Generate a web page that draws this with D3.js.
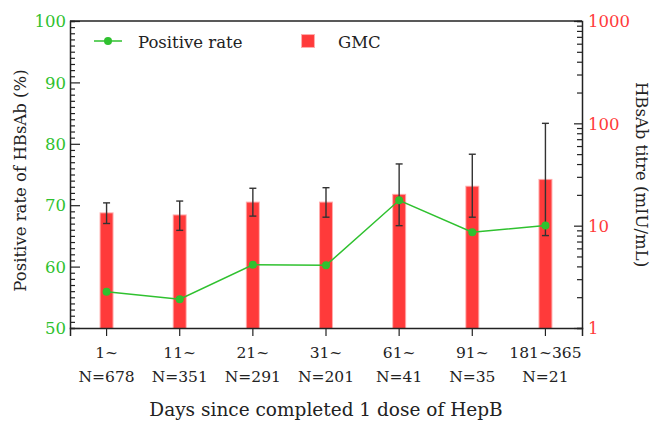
<!DOCTYPE html>
<html><head><meta charset="utf-8">
<script src="https://cdn.jsdelivr.net/npm/d3@7"></script>
<style>body{margin:0;background:#fff}svg{display:block}text{font-family:"DejaVu Serif",serif}</style>
</head><body><svg id="c" width="654" height="426"></svg>
<script>
const categories = ["1~", "11~", "21~", "31~", "61~", "91~", "181~365"];
const sampleN = ["N=678", "N=351", "N=291", "N=201", "N=41", "N=35", "N=21"];
const positiveRate = [55.9, 54.7, 60.3, 60.2, 70.8, 65.6, 66.7];
const gmc = [13.2, 12.6, 16.8, 16.8, 20.0, 24.0, 28.0];
const gmcLow = [10.5, 9.0, 12.4, 12.1, 10.0, 12.1, 8.0];
const gmcHigh = [16.7, 17.4, 23.2, 23.5, 40.1, 49.9, 100];
const leftTicks = [50, 60, 70, 80, 90, 100];
const rightTicks = [1, 10, 100, 1000];

const svg = d3.select("#c");
const m = {l: 70, r: 582, t: 21, b: 328};
const green = "#2fc12f", red = "#ff3a3a", dark = "#222";

const x = d3.scaleBand().domain(categories).range([m.l, m.r]).padding(0);
const yL = d3.scaleLinear().domain([50, 100]).range([m.b, m.t]);
const yR = d3.scaleLog().domain([1, 1000]).range([m.b, m.t]);
const cx = c => x(c) + x.bandwidth() / 2;
const bw = 12;

// bars
svg.append("g").selectAll("rect").data(categories).join("rect")
  .attr("x", (d) => cx(d) - bw / 2)
  .attr("width", bw)
  .attr("y", (d, i) => yR(gmc[i]))
  .attr("height", (d, i) => m.b - yR(gmc[i]))
  .attr("fill", red).attr("stroke", "rgba(255,70,70,0.45)").attr("stroke-width", 2);

// error bars
const eb = svg.append("g").attr("stroke", "#333").attr("stroke-width", 1.4);
categories.forEach((c, i) => {
  const X = cx(c);
  eb.append("line").attr("x1", X).attr("x2", X).attr("y1", yR(gmcLow[i])).attr("y2", yR(gmcHigh[i]));
  [gmcLow[i], gmcHigh[i]].forEach(v => eb.append("line").attr("x1", X - 3.5).attr("x2", X + 3.5).attr("y1", yR(v)).attr("y2", yR(v)));
});

// line
svg.append("path").datum(positiveRate)
  .attr("d", d3.line().x((d, i) => cx(categories[i])).y(d => yL(d)))
  .attr("fill", "none").attr("stroke", green).attr("stroke-width", 1.5);
svg.append("g").selectAll("circle").data(positiveRate).join("circle")
  .attr("cx", (d, i) => cx(categories[i])).attr("cy", d => yL(d)).attr("r", 4).attr("fill", green);

// frame top
svg.append("line").attr("x1", m.l).attr("x2", m.r).attr("y1", m.t).attr("y2", m.t).attr("stroke", dark).attr("stroke-width", 1.5);

// left axis
const gL = svg.append("g").attr("transform", `translate(${m.l},0)`);
gL.call(d3.axisLeft(yL).tickValues(d3.range(50, 101, 1)).tickSize(-5).tickFormat(""));
gL.call(g => g.selectAll(".tick line").filter(d => d % 10 === 0).attr("x2", 10));
gL.selectAll(".domain").attr("stroke", dark).attr("stroke-width", 1.5);
gL.selectAll("line").attr("stroke", dark).attr("stroke-width", 1.2);
gL.selectAll(".tick").filter(d => leftTicks.includes(d)).append("text")
  .attr("x", -4).attr("dy", "0.35em").attr("text-anchor", "end")
  .attr("fill", green).style("font-size", "16.5px").text(d => d);

// right axis
const minorR = [];
for (let e = 1; e < 1000; e *= 10) for (let k = 1; k < 10; k++) minorR.push(e * k);
minorR.push(1000);
const gR = svg.append("g").attr("transform", `translate(${m.r},0)`);
gR.call(d3.axisRight(yR).tickValues(minorR).tickSize(-5).tickFormat(""));
gR.call(g => g.selectAll(".tick line").filter(d => rightTicks.includes(d)).attr("x2", -8));
gR.selectAll(".domain").attr("stroke", dark).attr("stroke-width", 1.5);
gR.selectAll("line").attr("stroke", dark).attr("stroke-width", 1.2);
gR.selectAll(".tick").filter(d => rightTicks.includes(d)).append("text")
  .attr("x", 6).attr("dy", "0.35em").attr("text-anchor", "start")
  .attr("fill", red).style("font-size", "16.5px").text(d => d);

// bottom axis
const gB = svg.append("g").attr("transform", `translate(0,${m.b})`);
gB.call(d3.axisBottom(x).tickSize(8).tickFormat(""));
gB.selectAll(".domain").attr("stroke", dark).attr("stroke-width", 1.5);
gB.selectAll("line").attr("stroke", dark).attr("stroke-width", 1.2);
gB.selectAll(".tick").each(function(d, i) {
  const t = d3.select(this);
  t.append("text").attr("y", 30).attr("text-anchor", "middle").attr("fill", dark).style("font-size", "15.5px").text(categories[i]);
  t.append("text").attr("y", 54).attr("text-anchor", "middle").attr("fill", dark).style("font-size", "15.5px").text(sampleN[i]);
});

// axis titles
svg.append("text").attr("x", (m.l + m.r) / 2).attr("y", 416).attr("text-anchor", "middle")
  .attr("fill", dark).style("font-size", "18.5px").text("Days since completed 1 dose of HepB");
svg.append("text").attr("transform", `translate(26,${(m.t + m.b) / 2 + 6}) rotate(-90)`).attr("text-anchor", "middle")
  .attr("fill", dark).style("font-size", "16.5px").text("Positive rate of HBsAb (%)");
svg.append("text").attr("transform", `translate(636,${(m.t + m.b) / 2}) rotate(90)`).attr("text-anchor", "middle")
  .attr("fill", dark).style("font-size", "16.5px").text("HBsAb titre (mIU/mL)");

// legend
const lg = svg.append("g");
lg.append("line").attr("x1", 94).attr("x2", 122).attr("y1", 41).attr("y2", 41).attr("stroke", green).attr("stroke-width", 1.5);
lg.append("circle").attr("cx", 108).attr("cy", 41).attr("r", 4).attr("fill", green);
lg.append("text").attr("x", 138).attr("y", 48).attr("fill", dark).style("font-size", "16.5px").text("Positive rate");
lg.append("rect").attr("x", 302).attr("y", 35).attr("width", 12).attr("height", 12)
  .attr("fill", red).attr("stroke", "rgba(255,70,70,0.45)").attr("stroke-width", 2);
lg.append("text").attr("x", 338).attr("y", 48).attr("fill", dark).style("font-size", "16.5px").text("GMC");
</script></body></html>
